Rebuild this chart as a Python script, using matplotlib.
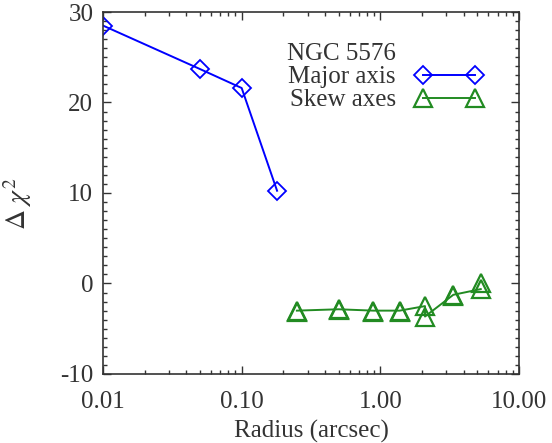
import numpy as np
import matplotlib
matplotlib.use('Agg')
import matplotlib.pyplot as plt
from matplotlib.lines import Line2D
from matplotlib.ticker import FixedLocator, MultipleLocator, LogLocator, NullFormatter

plt.rcParams['font.family'] = ['Liberation Serif', 'DejaVu Serif']
plt.rcParams['mathtext.fontset'] = 'stix'
plt.rcParams['axes.unicode_minus'] = False

# delta chi^2 along the major axis
major_r = [0.01, 0.05, 0.1, 0.18]
major_dchi2 = [28.5, 23.7, 21.6, 10.25]

# skew axes, connected series (two fits at r = 2.1)
skew_r = [0.25, 0.5, 0.89, 1.38, 2.1, 2.1, 3.36, 5.3]
skew_dchi2 = [-3.0, -2.85, -3.0, -3.0, -2.5, -3.65, -1.25, -0.62]

# second skew axis, symbols only
skew2_r = [0.25, 0.5, 0.89, 1.38, 3.36, 5.3]
skew2_dchi2 = [-3.15, -2.95, -3.1, -3.15, -1.4, 0.02]

xticks = [0.01, 0.1, 1.0, 10.0]
xticklabels = ['0.01', '0.10', '1.00', '10.00']
yticks = [-10, 0, 10, 20, 30]

BLUE = '#0000ff'
GREEN = '#228b22'
INK = '#333333'

fig = plt.figure(figsize=(5.52, 4.43), dpi=100)
ax = fig.add_axes([0.1866, 0.1558, 0.7536, 0.8171])

ax.plot(major_r, major_dchi2, color=BLUE, lw=1.4, marker='D', ms=8.8,
        mfc='none', mec=BLUE, mew=1.3, clip_on=True)
ax.plot(skew_r, skew_dchi2, color=GREEN, lw=1.4, marker='^', ms=13,
        mfc='none', mec=GREEN, mew=1.6)
ax.plot(skew2_r, skew2_dchi2, ls='none', marker='^', ms=13,
        mfc='none', mec=GREEN, mew=1.6)

ax.set_xscale('log')
ax.set_xlim(0.01, 10.0)
ax.set_ylim(-10, 30)

ax.xaxis.set_major_locator(FixedLocator(xticks))
ax.set_xticklabels(xticklabels)
ax.xaxis.set_minor_locator(LogLocator(base=10, subs=np.arange(2, 10)))
ax.xaxis.set_minor_formatter(NullFormatter())
ax.set_yticks(yticks)
ax.yaxis.set_minor_locator(MultipleLocator(1))

ax.tick_params(which='both', direction='in', top=True, right=True,
               colors=INK, labelcolor=INK, labelsize=18, width=1.0)
ax.tick_params(which='major', length=6)
ax.tick_params(which='minor', length=3)
ax.tick_params(axis='x', which='major', pad=12)
ax.tick_params(axis='y', which='major', pad=7)
for sp in ax.spines.values():
    sp.set_color(INK)
    sp.set_linewidth(1.2)

ax.set_xlabel('Radius (arcsec)', fontsize=18, color=INK, labelpad=5)
ax.set_ylabel(r'$\Delta\ \chi^{2}$', fontsize=20, color=INK)
ax.yaxis.set_label_coords(-0.165, 0.47)

handles = [
    Line2D([], [], ls='none'),
    Line2D([], [], color=BLUE, lw=1.4, marker='D', ms=8.8, mfc='none', mew=1.3),
    Line2D([], [], color=GREEN, lw=1.4, marker='^', ms=13, mfc='none', mew=1.6),
]
leg = ax.legend(handles, ['NGC 5576', 'Major axis', 'Skew axes'],
                loc='upper left', bbox_to_anchor=(0.442, 0.915),
                frameon=False, markerfirst=False, numpoints=2,
                fontsize=18, handlelength=2.68, handletextpad=0.78,
                labelspacing=0.02, borderpad=0, borderaxespad=0)
for t in leg.get_texts():
    t.set_color(INK)

fig.savefig('out.png', dpi=100)
